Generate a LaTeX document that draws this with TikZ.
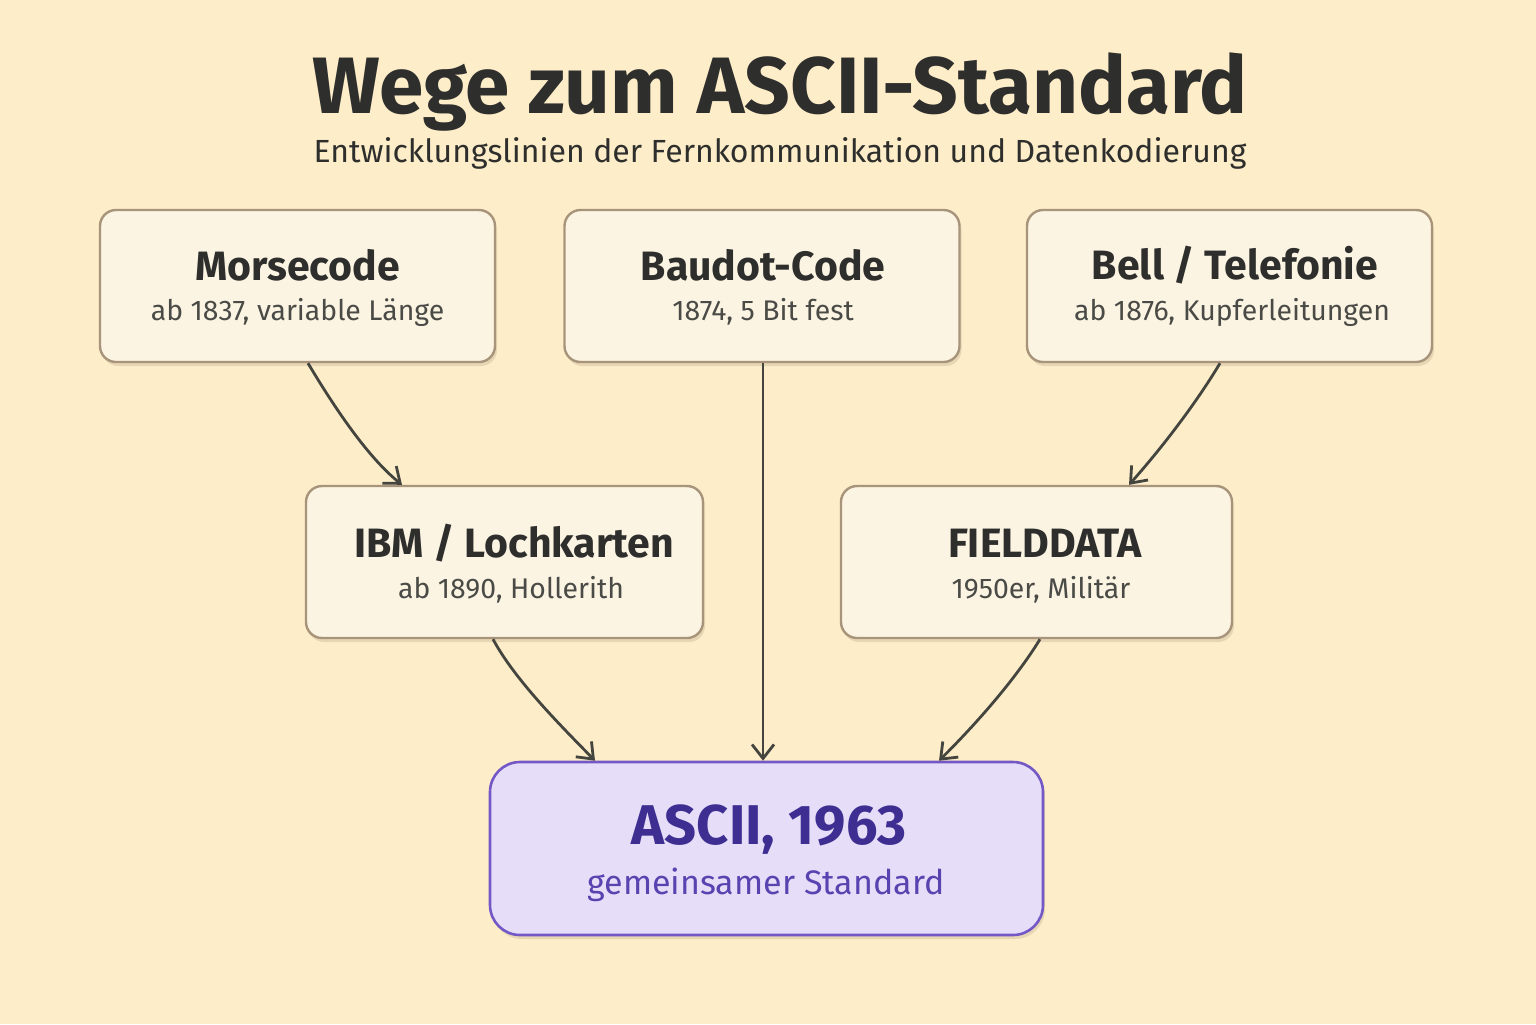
\documentclass[tikz,border=0pt]{standalone}
\usepackage{fontspec}
\setmainfont{Fira Sans}
\usetikzlibrary{arrows.meta,shadows}
\definecolor{bg}{HTML}{FDEDC9}
\definecolor{boxfill}{HTML}{FCF4E3}
\definecolor{boxline}{HTML}{A8947A}
\definecolor{ink}{HTML}{2E2E2C}
\definecolor{subink}{HTML}{4A4A46}
\definecolor{arrowc}{HTML}{45453F}
\definecolor{afill}{HTML}{E6DEF8}
\definecolor{aline}{HTML}{7358C6}
\definecolor{aink}{HTML}{3E2E92}
\definecolor{asub}{HTML}{5A42B0}
\tikzset{
  srcbox/.style={draw=boxline, line width=1.2pt, fill=boxfill, rounded corners=8pt,
    minimum width=197.5pt, minimum height=76pt, inner sep=0pt,
    drop shadow={shadow xshift=1pt, shadow yshift=-2pt, opacity=0.12, fill=black!60!brown}},
  boxtitle/.style={font=\fontsize{20.5}{24}\selectfont\bfseries, text=ink},
  boxsub/.style={font=\fontsize{14.2}{17}\selectfont, text=subink},
  conn/.style={draw=arrowc, line width=1.4pt, -{Straight Barb[length=7pt,width=11pt,line width=1.4pt]}},
}
\begin{document}
\begin{tikzpicture}[x=0.5pt,y=-0.5pt]
\fill[bg] (0,0) rectangle (1536,1024);
\useasboundingbox (0,0) rectangle (1536,1024);

\node[font=\fontsize{40}{46}\selectfont\bfseries, text=ink] (title) at (780,92) {Wege zum ASCII-Standard};
\node[font=\fontsize{16}{19}\selectfont, text=ink] (subtitle) at (780,153) {Entwicklungslinien der Fernkommunikation und Datenkodierung};

% top row
\node[srcbox] (morse) at (297.5,286) {};
\node[boxtitle] (morseT) at (297.5,265) {Morsecode};
\node[boxsub] (morseS) at (297.5,312) {ab 1837, variable Länge};

\node[srcbox] (baudot) at (762,286) {};
\node[boxtitle] (baudotT) at (763,265) {Baudot-Code};
\node[boxsub] (baudotS) at (763,312) {1874, 5 Bit fest};

\node[srcbox, minimum width=202.5pt] (bell) at (1229.5,286) {};
\node[boxtitle] (bellT) at (1235,265) {Bell / Telefonie};
\node[boxsub] (bellS) at (1232,312) {ab 1876, Kupferleitungen};

% middle row
\node[srcbox, minimum width=198.5pt] (ibm) at (504.5,562) {};
\node[boxtitle] (ibmT) at (514,543) {IBM / Lochkarten};
\node[boxsub] (ibmS) at (511,590) {ab 1890, Hollerith};

\node[srcbox, minimum width=195.5pt] (field) at (1036.5,562) {};
\node[boxtitle] (fieldT) at (1045,543) {FIELDDATA};
\node[boxsub] (fieldS) at (1041,590) {1950er, Militär};

% ASCII
\node[draw=aline, line width=1.3pt, fill=afill, rounded corners=15pt,
  minimum width=276.5pt, minimum height=86.5pt, inner sep=0pt,
  drop shadow={shadow xshift=1pt, shadow yshift=-2pt, opacity=0.12, fill=black!60!brown}] (ascii) at (766.5,848.5) {};
\node[font=\fontsize{28}{32}\selectfont\bfseries, text=aink] (asciiT) at (769,830) {ASCII, 1963};
\node[font=\fontsize{17}{20}\selectfont, text=asub] (asciiS) at (766,885) {gemeinsamer Standard};

% connectors
\draw[conn] (morse.south -| 308,0) .. controls (330,400) and (365,455) .. (ibm.north -| 402,0);
\draw[conn] (baudot.south -| 763,0) -- (ascii.north -| 763,0);
\draw[conn] (bell.south -| 1220,0) .. controls (1195,405) and (1160,450) .. (field.north -| 1129,0);
\draw[conn] (ibm.south -| 493,0) .. controls (515,680) and (560,725) .. (ascii.north -| 595,0);
\draw[conn] (field.south -| 1040,0) .. controls (1015,680) and (975,725) .. (ascii.north -| 939,0);
\end{tikzpicture}
\end{document}
